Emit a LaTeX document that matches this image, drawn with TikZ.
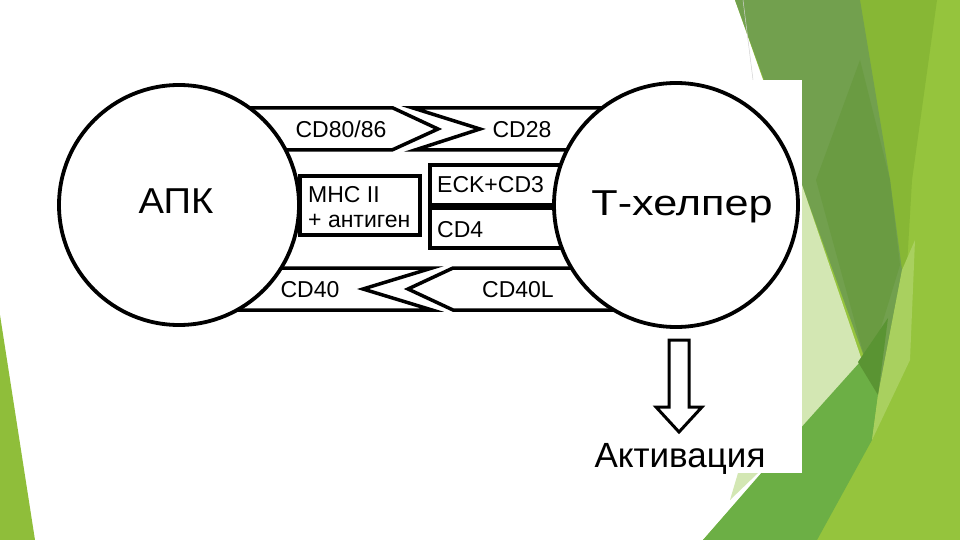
\documentclass[tikz,border=0pt]{standalone}
\usepackage{fontspec}
\setmainfont{Liberation Sans}
\definecolor{gBright}{HTML}{95C43D}
\definecolor{gYel}{HTML}{87B735}
\definecolor{gDark}{HTML}{72A04E}
\definecolor{gDarker}{HTML}{6A9B42}
\definecolor{gDeep}{HTML}{5A9433}
\definecolor{gPale}{HTML}{D3E7B3}
\definecolor{gLight}{HTML}{A9D05F}
\definecolor{gMed}{HTML}{6CAF45}
\definecolor{gLeft}{HTML}{8FBE3A}
\begin{document}
\begin{tikzpicture}[x=1pt,y=-1pt,
  band/.style={line width=3.5pt, line join=miter},
  ring/.style={circle, draw, line width=3.8pt, fill=white, minimum size=#1, inner sep=0pt},
  lbl/.style={font=\fontsize{23}{27}\selectfont, inner sep=0pt, anchor=base},
  lbll/.style={font=\fontsize{23}{27}\selectfont, inner sep=0pt, anchor=base west},
  big/.style={font=\fontsize{36}{40}\selectfont, inner sep=0pt, anchor=base},
]
\useasboundingbox (0,0) rectangle (960,540);
\fill[white] (0,0) rectangle (960,540);
% green background shapes
\fill[gBright] (735,0) -- (960,0) -- (960,540) -- (703,540) -- (800,430) -- (802,190) -- cycle;
\fill[gYel] (860,0) -- (937,0) -- (912,180) -- (905,300) -- (878,395) -- cycle;
\fill[gDark] (735,0) -- (860,0) -- (890,180) -- (902,270) -- (878,395) -- cycle;
\fill[gDarker] (860,60) -- (816,180) -- (868,370) -- (900,265) -- (890,180) -- cycle;
\fill[gPale] (790,150) -- (868,378) -- (790,440) -- cycle;
\fill[gMed] (860,362) -- (878,395) -- (872,440) -- (817,540) -- (703,540) -- (790,440) -- cycle;
\fill[gLight] (902,270) -- (915,240) -- (910,360) -- (872,440) -- (878,395) -- cycle;
\fill[gDeep] (888,318) -- (858,362) -- (878,395) -- cycle;
\fill[gPale] (738,473) -- (758,473) -- (730,500) -- cycle;
\fill[gLeft] (0,315) -- (35,540) -- (0,540) -- cycle;
\draw[gray!35, line width=0.5pt] (743,0) -- (753,80);
% white picture area
\fill[white] (40,80) rectangle (802,473);
% bands
\draw[band] (200,108) -- (393,108) -- (438,129) -- (392,150) -- (200,150);
\draw[band] (650,108) -- (413,108) -- (480,129) -- (415,150) -- (650,150);
\draw[band] (200,268) -- (432,268) -- (363,289) -- (432,310) -- (200,310);
\draw[band] (660,268) -- (453,268) -- (408,289) -- (453,310) -- (660,310);
% boxes
\draw[line width=3.5pt] (300,176) rectangle (420,235);
\draw[line width=3.5pt] (600,165) -- (430,165) -- (430,248) -- (600,248);
\draw[line width=7pt] (430,206) -- (600,206);
% cells
\node[ring=240pt] (apk) at (179,205) {};
\node[ring=244pt] (th) at (676,205) {};
% texts
\node[big] (apkt) at (176,213) {\scalebox{1.06}[1]{АПК}};
\node[big] (tht) at (682,215) {\scalebox{1.2}[1]{Т-хелпер}};
\node[lbl] (cd80) at (341,137.5) {CD80/86};
\node[lbl] (cd28) at (522,137.5) {CD28};
\node[lbll] (mhc) at (308,202) {MHC II};
\node[lbll] (ag) at (308,227) {+ антиген};
\node[lbll] (eck) at (437,193) {ECK+CD3};
\node[lbll] (cd4) at (437,237) {CD4};
\node[lbl] (cd40) at (310,297.5) {CD40};
\node[lbl] (cd40l) at (518,297.5) {CD40L};
\node[big, font=\fontsize{35}{40}\selectfont] (act) at (680,467) {Активация};
% activation arrow
\draw[line width=3pt, fill=white, line join=miter] (669,340) -- (689,340) -- (689,407) -- (702,407) -- (679,432) -- (656,407) -- (669,407) -- cycle;
\end{tikzpicture}
\end{document}
